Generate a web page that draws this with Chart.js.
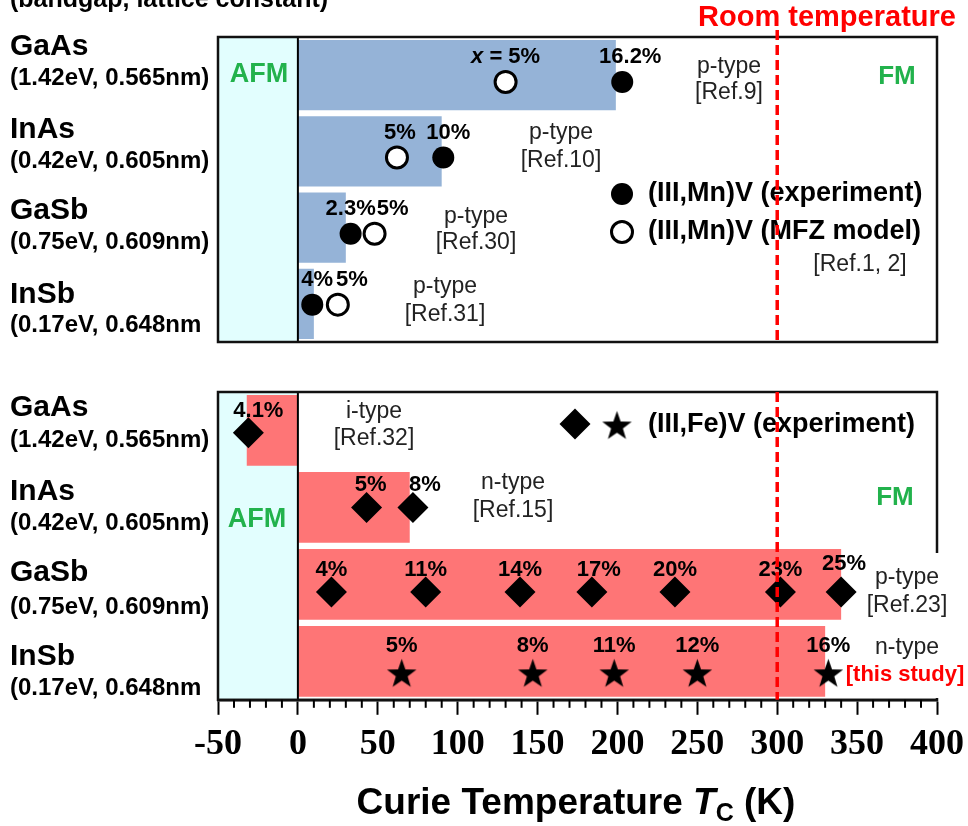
<!DOCTYPE html>
<html>
<head>
<meta charset="utf-8">
<script src="https://cdn.jsdelivr.net/npm/chart.js@4.4.1/dist/chart.umd.min.js"></script>
<style>
  html, body { margin: 0; padding: 0; background: #fff; }
  #wrap { position: relative; width: 968px; height: 826px; overflow: hidden; }
  #wrap canvas { position: absolute; left: 0; }
  #topChart { top: 0; }
  #botChart { top: 360px; }
</style>
</head>
<body>
<div id="wrap">
  <canvas id="topChart" width="968" height="360"></canvas>
  <canvas id="botChart" width="968" height="466"></canvas>
</div>
<script>
(function () {
  'use strict';

  // ── Data ─────────────────────────────────────────────────────────────
  var hosts = ['GaAs', 'InAs', 'GaSb', 'InSb'];
  var hostProps = ['(1.42eV, 0.565nm)', '(0.42eV, 0.605nm)', '(0.75eV, 0.609nm)', '(0.17eV, 0.648nm'];

  // (III,Mn)V : Curie temperature (K)
  var mnBarTc = [199, 90, 30, 10];
  var mnExpTc = [203, 91, 33, 9];
  var mnExpConc = ['16.2%', '10%', '2.3%', '4%'];
  var mnModelTc = [130, 62, 48, 25];
  var mnModelConc = ['x = 5%', '5%', '5%', '5%'];

  // (III,Fe)V : Curie temperature (K)
  var feBarTc = [-32, 70, 340, 330];
  var feDiamondHost = [0, 1, 1, 2, 2, 2, 2, 2, 2, 2];
  var feDiamondTc = [-31, 43, 72, 21, 80, 139, 184, 236, 302, 340];
  var feDiamondConc = ['4.1%', '5%', '8%', '4%', '11%', '14%', '17%', '20%', '23%', '25%'];
  var feStarHost = [3, 3, 3, 3, 3];
  var feStarTc = [65, 147, 198, 250, 332];
  var feStarConc = ['5%', '8%', '11%', '12%', '16%'];

  var xTickValues = [-50, 0, 50, 100, 150, 200, 250, 300, 350, 400];
  var roomTemp = 300;

  // ── Layout tweaks (not data) ─────────────────────────────────────────
  var mnRowNudge = [0.09, 0.08, 0.08, 0.01];
  var feRowNudge = [0.03, 0.0, 0.1, 0.15];
  var mnExpLabelDx = [8, 5, 0, 5];
  var mnModelLabelDx = [0, 3, 18, 14];
  var feDiamondLabelDx = [10, 4, 12, 0, 0, 0, 7, 0, 0, 3];

  var SANS = "'Liberation Sans', Arial, sans-serif";
  var SERIF = "'Liberation Serif', 'Times New Roman', serif";
  var blue = '#95b3d7';
  var red = '#fe7576';
  var cyan = '#e2fefe';
  var green = '#22b24c';

  function f(weight, size, family) { return weight + ' ' + size + 'px ' + (family || SANS); }

  function txt(ctx, s, x, y, font, color, align) {
    ctx.font = font;
    ctx.fillStyle = color;
    ctx.textAlign = align || 'center';
    ctx.textBaseline = 'middle';
    ctx.fillText(s, x, y);
  }

  // 5-point filled star used as a point style
  function makeStar(r) {
    var s = Math.ceil(r * 2) + 2;
    var c = document.createElement('canvas');
    c.width = s; c.height = s;
    var g = c.getContext('2d');
    var cx = s / 2, cy = s / 2 + r * 0.095;
    g.beginPath();
    for (var i = 0; i < 10; i++) {
      var rad = i % 2 === 0 ? r : r * 0.4;
      var a = -Math.PI / 2 + i * Math.PI / 5;
      g.lineTo(cx + rad * Math.cos(a), cy + rad * Math.sin(a));
    }
    g.closePath();
    g.fillStyle = '#000';
    g.fill();
    return c;
  }
  var starImg = makeStar(15.5);

  function pts(tc, rows, nudge) {
    return tc.map(function (v, i) { return { x: v, y: rows[i] + nudge[rows[i]] }; });
  }
  var rowIdx = [0, 1, 2, 3];

  var closedDot = { pointStyle: 'circle', radius: 11, borderWidth: 0 };
  var openDot = { pointStyle: 'circle', radius: 10.5, borderWidth: 3 };

  // ── Overlay plugin (frames, texts, labels, room-temperature line) ────
  function overlay(cfg) {
    return {
      id: 'overlay',
      beforeDatasetsDraw: function (chart) {
        var ctx = chart.ctx, a = chart.chartArea, xs = chart.scales.x;
        var x0 = xs.getPixelForValue(-50), x1 = xs.getPixelForValue(0);
        ctx.save();
        ctx.fillStyle = cyan;
        ctx.fillRect(x0, a.top, x1 - x0, a.bottom - a.top);
        ctx.restore();
      },
      afterDatasetsDraw: function (chart) {
        var ctx = chart.ctx, a = chart.chartArea, xs = chart.scales.x;
        var T = cfg.pageTop;
        ctx.save();

        // zero line
        var xz = xs.getPixelForValue(0);
        ctx.strokeStyle = '#000';
        ctx.lineWidth = 2;
        ctx.beginPath(); ctx.moveTo(xz, a.top); ctx.lineTo(xz, a.bottom); ctx.stroke();

        // frame
        ctx.lineWidth = 2.5;
        ctx.strokeStyle = '#111';
        ctx.strokeRect(a.left, a.top, a.right - a.left, a.bottom - a.top);

        // white boxes behind side notes
        (cfg.boxes || []).forEach(function (b) {
          ctx.fillStyle = '#fff';
          ctx.fillRect(b[0], b[1] - T, b[2], b[3]);
        });

        // host labels
        cfg.hostY.forEach(function (yy, i) {
          txt(ctx, hosts[i], 10, yy[0] - T, f('bold', 30), '#000', 'left');
          txt(ctx, hostProps[i], 10, yy[1] - T, f('bold', 24), '#000', 'left');
        });

        // free texts
        cfg.texts.forEach(function (t) {
          txt(ctx, t.s, t.x, t.y - T, t.font, t.color || '#222', t.align);
        });

        // concentration labels above markers
        chart.data.datasets.forEach(function (ds, di) {
          if (!ds.concLabels) return;
          var meta = chart.getDatasetMeta(di);
          meta.data.forEach(function (el, j) {
            var lx = el.x + (ds.labelDx ? ds.labelDx[j] : 0);
            var ly = el.y + (ds.labelDy || -24) + (ds.labelDyEach ? ds.labelDyEach[j] : 0);
            var s = ds.concLabels[j];
            if (s.indexOf('x = ') === 0) {
              var rest = s.slice(1);
              ctx.font = 'italic ' + f('bold', 22);
              var w1 = ctx.measureText('x').width;
              ctx.font = f('bold', 22);
              var w2 = ctx.measureText(rest).width;
              var sx = lx - (w1 + w2) / 2;
              txt(ctx, 'x', sx, ly, 'italic ' + f('bold', 22), '#000', 'left');
              txt(ctx, rest, sx + w1, ly, f('bold', 22), '#000', 'left');
            } else {
              txt(ctx, s, lx, ly, f('bold', 22), '#000', 'center');
            }
          });
        });

        // legend markers
        (cfg.legend || []).forEach(function (L) {
          ctx.fillStyle = L.fill; ctx.strokeStyle = '#000'; ctx.lineWidth = L.opt.borderWidth || 0;
          Chart.helpers.drawPoint(ctx, { pointStyle: L.opt.pointStyle, radius: L.opt.radius, borderWidth: L.opt.borderWidth, rotation: 0 }, L.x, L.y - T);
        });

        ctx.restore();
      },
      afterDraw: function (chart) {
        var ctx = chart.ctx, a = chart.chartArea, xs = chart.scales.x;
        var T = cfg.pageTop;
        ctx.save();
        if (cfg.axis) {
          ctx.strokeStyle = '#000'; ctx.lineWidth = 2;
          for (var v = -50; v <= 400; v += 10) {
            if (v % 50 === 0) continue;
            var px = xs.getPixelForValue(v);
            ctx.beginPath(); ctx.moveTo(px, a.bottom); ctx.lineTo(px, a.bottom + 8); ctx.stroke();
          }
          // axis title
          var p1 = 'Curie Temperature ', p4 = ' (K)';
          ctx.font = f('bold', 37); var w1 = ctx.measureText(p1).width, w4 = ctx.measureText(p4).width;
          ctx.font = 'italic ' + f('bold', 37); var wT = ctx.measureText('T').width;
          ctx.font = f('bold', 25); var wC = ctx.measureText('C').width;
          var sx = 576 - (w1 + wT + wC + w4) / 2, by = 814 - T;
          ctx.textBaseline = 'alphabetic'; ctx.textAlign = 'left'; ctx.fillStyle = '#000';
          ctx.font = f('bold', 37); ctx.fillText(p1, sx, by);
          ctx.font = 'italic ' + f('bold', 37); ctx.fillText('T', sx + w1, by);
          ctx.font = f('bold', 25); ctx.fillText('C', sx + w1 + wT, by + 7);
          ctx.font = f('bold', 37); ctx.fillText(p4, sx + w1 + wT + wC, by);
        }
        if (cfg.topText) {
          txt(ctx, '(bandgap, lattice constant)', 10, 0, f('bold', 25), '#000', 'left');
          txt(ctx, 'Room temperature', 827, 18, f('bold', 29), '#ff0000', 'center');
        }
        // room temperature line
        var xr = xs.getPixelForValue(roomTemp);
        ctx.strokeStyle = '#ff0000'; ctx.lineWidth = 3.5; ctx.setLineDash([10, 5]);
        ctx.beginPath(); ctx.moveTo(xr, cfg.dashTop - T); ctx.lineTo(xr, a.bottom); ctx.stroke();
        ctx.restore();
      }
    };
  }

  function scales(showAxis) {
    var x = { type: 'linear', min: -50, max: 400, display: showAxis, offset: false };
    if (showAxis) {
      x.position = 'bottom';
      x.afterBuildTicks = function (s) { s.ticks = xTickValues.map(function (v) { return { value: v }; }); };
      x.ticks = { color: '#000', padding: 4, maxRotation: 0, minRotation: 0, autoSkip: false,
        font: { family: SERIF, size: 36, weight: 'bold', lineHeight: 1.45 } };
      x.grid = { drawOnChartArea: false, drawTicks: true, tickLength: 15, tickWidth: 2, tickColor: '#000' };
      x.border = { display: true, color: '#000', width: 2.5 };
    }
    return {
      x: x,
      y: { type: 'category', display: false, offset: true },
      yp: { type: 'linear', min: -0.5, max: 3.5, reverse: true, display: false, offset: false }
    };
  }

  var common = {
    responsive: false,
    animation: false,
    events: [],
    indexAxis: 'y',
    plugins: { legend: { display: false }, tooltip: { enabled: false } }
  };

  function opts(showAxis, padding) {
    var o = Object.assign({}, common);
    o.scales = scales(showAxis);
    o.layout = { padding: padding };
    return o;
  }

  // ── Top panel: (III,Mn)V ─────────────────────────────────────────────
  new Chart(document.getElementById('topChart'), {
    type: 'bar',
    data: {
      labels: hosts,
      datasets: [
        { type: 'bar', data: mnBarTc, backgroundColor: blue, barPercentage: 0.92, categoryPercentage: 1,
          grouped: false, xAxisID: 'x', yAxisID: 'y', order: 3 },
        { type: 'scatter', data: pts(mnModelTc, rowIdx, mnRowNudge), xAxisID: 'x', yAxisID: 'yp', order: 2,
          pointStyle: 'circle', pointRadius: openDot.radius, pointBorderWidth: 3,
          backgroundColor: '#fff', borderColor: '#000', clip: false,
          concLabels: mnModelConc, labelDx: mnModelLabelDx, labelDy: -25 },
        { type: 'scatter', data: pts(mnExpTc, rowIdx, mnRowNudge), xAxisID: 'x', yAxisID: 'yp', order: 1,
          pointStyle: 'circle', pointRadius: closedDot.radius, pointBorderWidth: 0,
          backgroundColor: '#000', borderColor: '#000', clip: false,
          concLabels: mnExpConc, labelDx: mnExpLabelDx, labelDy: -25 }
      ]
    },
    options: opts(false, { left: 218, right: 31, top: 37, bottom: 18 }),
    plugins: [overlay({
      pageTop: 0,
      topText: true,
      dashTop: 30,
      hostY: [[47, 78], [130, 161], [211, 242], [295, 325]],
      texts: [
        { s: 'AFM', x: 259, y: 75, font: f('bold', 27), color: green },
        { s: 'FM', x: 897, y: 77, font: f('bold', 26), color: green },
        { s: 'p-type', x: 729, y: 67, font: f('normal', 23) },
        { s: '[Ref.9]', x: 729, y: 93, font: f('normal', 23) },
        { s: 'p-type', x: 561, y: 133, font: f('normal', 23) },
        { s: '[Ref.10]', x: 561, y: 161, font: f('normal', 23) },
        { s: 'p-type', x: 476, y: 217, font: f('normal', 23) },
        { s: '[Ref.30]', x: 476, y: 243, font: f('normal', 23) },
        { s: 'p-type', x: 445, y: 287, font: f('normal', 23) },
        { s: '[Ref.31]', x: 445, y: 315, font: f('normal', 23) },
        { s: '(III,Mn)V (experiment)', x: 648, y: 194, font: f('bold', 27), color: '#000', align: 'left' },
        { s: '(III,Mn)V (MFZ model)', x: 648, y: 232, font: f('bold', 27), color: '#000', align: 'left' },
        { s: '[Ref.1, 2]', x: 860, y: 265, font: f('normal', 23) }
      ],
      legend: [
        { x: 622, y: 194, fill: '#000', opt: closedDot },
        { x: 622, y: 232, fill: '#fff', opt: openDot }
      ]
    })]
  });

  // ── Bottom panel: (III,Fe)V ──────────────────────────────────────────
  new Chart(document.getElementById('botChart'), {
    type: 'bar',
    data: {
      labels: hosts,
      datasets: [
        { type: 'bar', data: feBarTc, backgroundColor: red, barPercentage: 0.92, categoryPercentage: 1,
          grouped: false, xAxisID: 'x', yAxisID: 'y', order: 3 },
        { type: 'scatter', data: pts(feDiamondTc, feDiamondHost, feRowNudge), xAxisID: 'x', yAxisID: 'yp', order: 1,
          pointStyle: 'rectRot', pointRadius: 15.5, pointBorderWidth: 0,
          backgroundColor: '#000', borderColor: '#000', clip: false,
          concLabels: feDiamondConc, labelDx: feDiamondLabelDx, labelDy: -22,
          labelDyEach: [0, 0, 0, 0, 0, 0, 0, 0, 0, -6] },
        { type: 'scatter', data: pts(feStarTc, feStarHost, feRowNudge), xAxisID: 'x', yAxisID: 'yp', order: 1,
          pointStyle: starImg, pointRadius: 15, clip: false,
          concLabels: feStarConc, labelDy: -27 }
      ]
    },
    options: opts(true, { left: 218, right: 31, top: 32, bottom: 51 }),
    plugins: [overlay({
      pageTop: 360,
      axis: true,
      dashTop: 392,
      boxes: [[866, 553, 100, 145]],
      hostY: [[408, 440], [492, 523], [573, 607], [657, 688]],
      texts: [
        { s: 'AFM', x: 257, y: 520, font: f('bold', 27), color: green },
        { s: 'FM', x: 895, y: 498, font: f('bold', 26), color: green },
        { s: 'i-type', x: 374, y: 412, font: f('normal', 23) },
        { s: '[Ref.32]', x: 374, y: 439, font: f('normal', 23) },
        { s: 'n-type', x: 513, y: 483, font: f('normal', 23) },
        { s: '[Ref.15]', x: 513, y: 511, font: f('normal', 23) },
        { s: 'p-type', x: 907, y: 578, font: f('normal', 23) },
        { s: '[Ref.23]', x: 907, y: 606, font: f('normal', 23) },
        { s: 'n-type', x: 907, y: 648, font: f('normal', 23) },
        { s: '[this study]', x: 905, y: 675, font: f('bold', 22), color: '#ff0000' },
        { s: '(III,Fe)V (experiment)', x: 648, y: 425, font: f('bold', 27), color: '#000', align: 'left' }
      ],
      legend: [
        { x: 575, y: 424, fill: '#000', opt: { pointStyle: 'rectRot', radius: 15.5, borderWidth: 0 } },
        { x: 617, y: 425, fill: '#000', opt: { pointStyle: starImg, radius: 15, borderWidth: 0 } }
      ]
    })]
  });
})();
</script>
</body>
</html>
